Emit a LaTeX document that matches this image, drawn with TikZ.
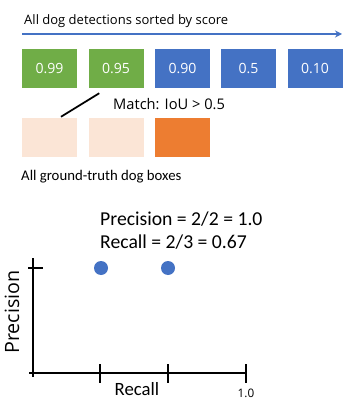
\documentclass[tikz,border=0pt]{standalone}
\usepackage{fontspec}
\setmainfont{Carlito}
\newfontfamily\uifont{Open Sans}
\usepackage{tikz}
\usetikzlibrary{arrows.meta, positioning, calc}
\definecolor{detgreen}{RGB}{112, 173, 71}
\definecolor{detblue}{RGB}{68, 114, 196}
\definecolor{gtpeach}{RGB}{251, 229, 214}
\definecolor{gtorange}{RGB}{237, 125, 49}

\begin{document}
\begin{tikzpicture}[
          x=0.03cm, y=-0.03cm,
          detbox/.style={rectangle, draw=none, minimum width=1.65cm, minimum height=1.17cm, inner sep=0pt, text=white, font=\uifont\fontsize{12}{14}\selectfont},
          gtbox/.style={rectangle, draw=none, minimum width=1.65cm, minimum height=1.17cm, inner sep=0pt},
          uilabel/.style={inner sep=0pt, anchor=west, font=\uifont\fontsize{11.1}{13}\selectfont},
          biglabel/.style={inner sep=0pt, anchor=west, font=\fontsize{16.8}{19}\selectfont},
          axisline/.style={line width=1.2pt},
          prdot/.style={circle, fill=detblue, minimum size=0.42cm, inner sep=0pt}
        ]
          \useasboundingbox (0, 0) rectangle (361, 403);

          % Sorted detections
          \node[uilabel] (title) at (24, 21) {All dog detections sorted by score};
          \coordinate (arrowstart) at (22, 34);
          \coordinate (arrowend) at (342, 34);
          \draw[detblue, line width=1.5pt, -{Stealth[length=6pt, width=6pt]}] (arrowstart) -- (arrowend);

          \node[detbox, fill=detgreen] (d1) at (49.5, 68.5) {0.99};
          \node[detbox, fill=detgreen] (d2) at (116, 68.5) {0.95};
          \node[detbox, fill=detblue] (d3) at (182.5, 68.5) {0.90};
          \node[detbox, fill=detblue] (d4) at (248.5, 68.5) {0.5};
          \node[detbox, fill=detblue] (d5) at (315, 68.5) {0.10};

          % Ground-truth boxes
          \node[gtbox, fill=gtpeach] (g1) at (49.5, 137.5) {};
          \node[gtbox, fill=gtpeach] (g2) at (116, 137.5) {};
          \node[gtbox, fill=gtorange] (g3) at (182.5, 137.5) {};

          \draw[line width=1.5pt] ($(d2.south west)+(11, 5)$) -- ($(g1.north)+(11.5, -1)$);
          \node[uilabel, font=\uifont\fontsize{12.5}{14}\selectfont] (match) at (113, 104) {Match: IoU > 0.5};
          \node[inner sep=0pt, anchor=west, font=\fontsize{12.6}{15}\selectfont] (gtlabel) at (21, 177) {All ground-truth dog boxes};

          % Precision / recall
          \node[biglabel] (prec) at (100, 219) {Precision = 2/2 = 1.0};
          \node[biglabel] (rec) at (100, 242) {Recall = 2/3 = 0.67};

          \coordinate (ytop) at (33, 258);
          \coordinate (origin) at (33, 377);
          \coordinate (xleft) at (29, 373);
          \coordinate (xright) at (247, 373);
          \draw[axisline] (ytop) -- (origin);
          \draw[axisline] (xleft) -- (xright);
          \draw[axisline] (28, 268) -- (43, 268);
          \foreach \tx in {100, 168, 246}
            \draw[axisline] (\tx, 364) -- (\tx, 383);

          \node[prdot] (p1) at (101, 268) {};
          \node[prdot] (p2) at (168, 268) {};

          \node[inner sep=0pt, rotate=90, font=\uifont\fontsize{16.8}{19}\selectfont] (ylab) at (12, 312) {Precision};
          \node[inner sep=0pt, font=\fontsize{16}{18}\selectfont] (xlab) at (137, 389) {Recall};
          \node[inner sep=0pt, font=\uifont\fontsize{10}{12}\selectfont] (one) at (246, 393) {1.0};
        \end{tikzpicture}
\end{document}
